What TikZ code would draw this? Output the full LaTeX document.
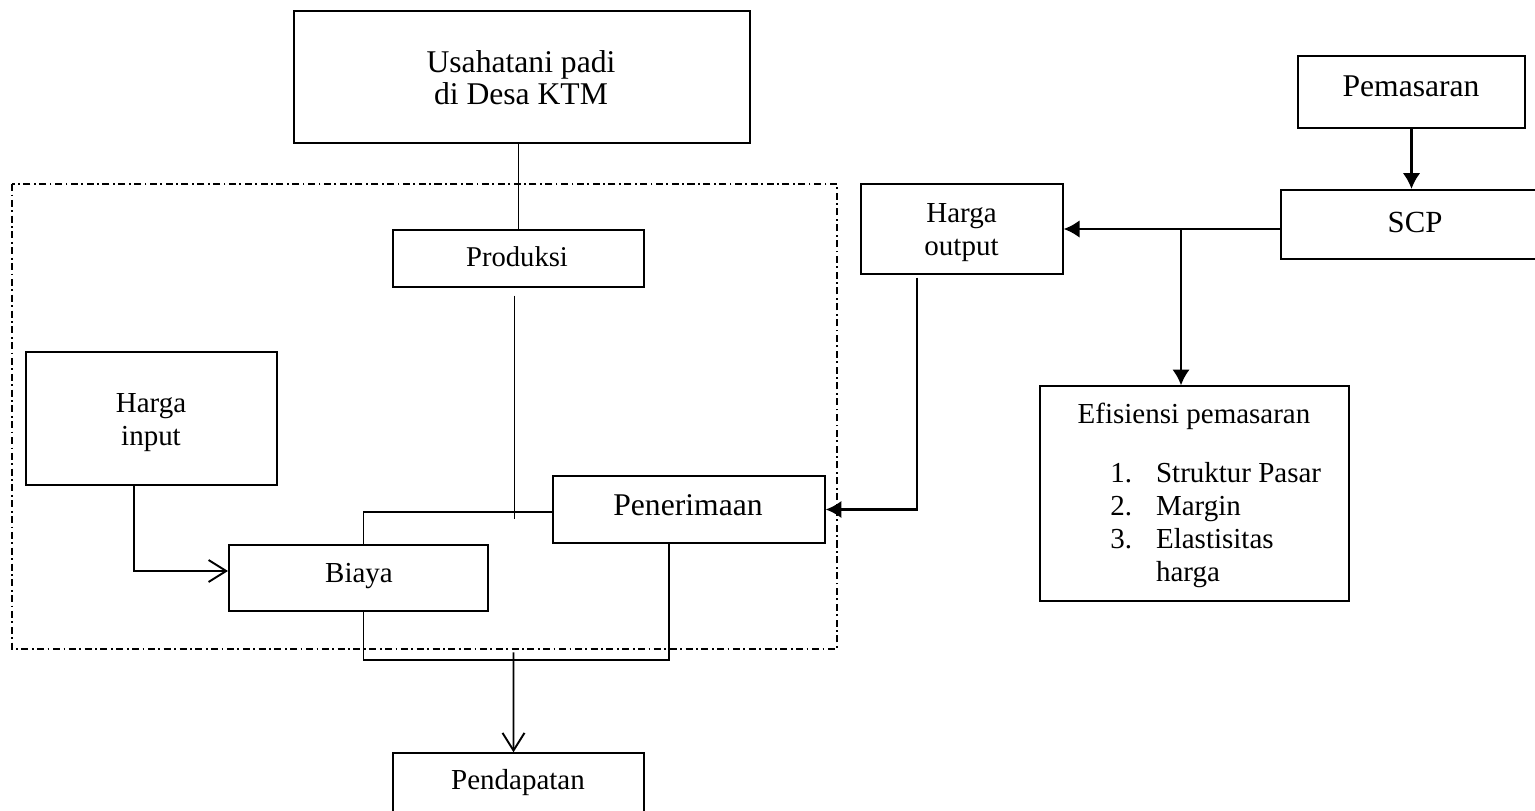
\documentclass[tikz,border=0pt]{standalone}
\usepackage{fontspec}
\setmainfont{Liberation Serif}
\usetikzlibrary{calc,arrows.meta}

\tikzset{
  box/.style={draw,line width=0.8pt,inner sep=0pt},
  boxthick/.style={box,line width=1.2pt},
  txt/.style={inner sep=0pt,font=\fontsize{16.5}{19}\selectfont,align=center},
  bigtxt/.style={inner sep=0pt,font=\fontsize{18}{18.5}\selectfont,align=center},
  listtxt/.style={inner sep=0pt,font=\fontsize{16.5}{18.8}\selectfont},
  conn/.style={line width=0.8pt},
  arr/.style={line width=1.4pt,->},
  openarr/.style={line width=1.1pt,-{Straight Barb[length=10pt,width=12.5pt]}},
  frameline/.style={line width=1.2pt,dash pattern=on 4pt off 2pt on 1pt off 2pt}
}

\begin{document}
\begin{tikzpicture}[x=0.02cm,y=-0.02cm,>={Latex[length=9pt,width=10pt]}]
\useasboundingbox (0,0) rectangle (1535,811);
% kotak-kotak
\draw node [box,minimum width=9.12cm,minimum height=2.64cm] (usaha) at (522,77) {};
\draw node [box,minimum width=5.02cm,minimum height=1.14cm] (prod) at (518.5,258.5) {};
\draw node [box,minimum width=5.02cm,minimum height=2.66cm] (hin) at (151.5,418.5) {};
\draw node [boxthick,minimum width=5.18cm,minimum height=1.32cm] (biaya) at (358.5,578) {};
\draw node [box,minimum width=5.44cm,minimum height=1.34cm] (pener) at (689,509.5) {};
\draw node [box,minimum width=5.02cm,minimum height=1.30cm] (pend) at (518.5,785.5) {};
\draw node [box,minimum width=4.04cm,minimum height=1.80cm] (hout) at (962,229) {};
\draw node [boxthick,minimum width=5.28cm,minimum height=1.38cm] (scp) at (1413,224.5) {};
\draw node [boxthick,minimum width=4.54cm,minimum height=1.44cm] (pemas) at (1411.5,92) {};
\draw node [box,minimum width=6.18cm,minimum height=4.30cm] (efis) at (1194.5,493.5) {};
% teks
\node [bigtxt,anchor=north] (usaha-t) at (521,50) {Usahatani padi\\di Desa KTM};
\node [txt,anchor=base,font=\fontsize{16.3}{19}\selectfont] (prod-t) at (517,266) {Produksi};
\node [txt,anchor=north] (hin-t) at (151,393) {Harga\\input};
\node [txt,anchor=base] (biaya-t) at (359,582) {Biaya};
\node [bigtxt,anchor=base] (pener-t) at (688,515) {Penerimaan};
\node [txt,anchor=base] (pend-t) at (518,789) {Pendapatan};
\node [txt,anchor=north] (hout-t) at (961.5,203) {Harga\\output};
\node [bigtxt,anchor=base,font=\fontsize{17.5}{19}\selectfont] (scp-t) at (1415,232) {SCP};
\node [bigtxt,anchor=base] (pemas-t) at (1411,97) {Pemasaran};
\node [txt,anchor=base] (efis-t) at (1194,423) {Efisiensi pemasaran};
\node [listtxt,anchor=base west] (efis-l) at (1110,482)
  {\begin{tabular}[t]{@{}l@{\hspace{0.48cm}}l@{}}1.&Struktur Pasar\\2.&Margin\\3.&Elastisitas\\&harga\end{tabular}};
% garis putus-putus
\draw [frameline] (12,184) rectangle (837,649);
% penghubung
\draw [conn] (usaha.south -| prod.north) -- (prod.north);
\draw [conn] ($(prod.south)+(-4,8)$) -- ($(prod.south |- pener.west)+(-4,9)$);
\draw [conn] ([yshift=-0.05cm]pener.west) -| ([xshift=0.1cm]biaya.north);
\draw [conn] ([xshift=0.1cm]biaya.south) -- ++(0,48) -| ([xshift=-0.4cm]pener.south);
\draw [openarr] ($(pend.north)+(-5,-100)$) -- ([xshift=-0.1cm]pend.north);
\draw [openarr] ([xshift=-0.35cm]hin.south) |- ([yshift=0.14cm]biaya.west);
\draw [arr] (pemas.south) -- (pemas.south |- scp.north);
\draw [arr] (scp.west |- hout.east) -- (hout.east);
\draw [arr] ($(efis.north |- hout.east)+(-13.5,0)$) -- ($(efis.north)+(-13.5,0)$);
\draw [arr] ($(hout.south)+(-45,3)$) |- (pener.east);
\end{tikzpicture}
\end{document}
